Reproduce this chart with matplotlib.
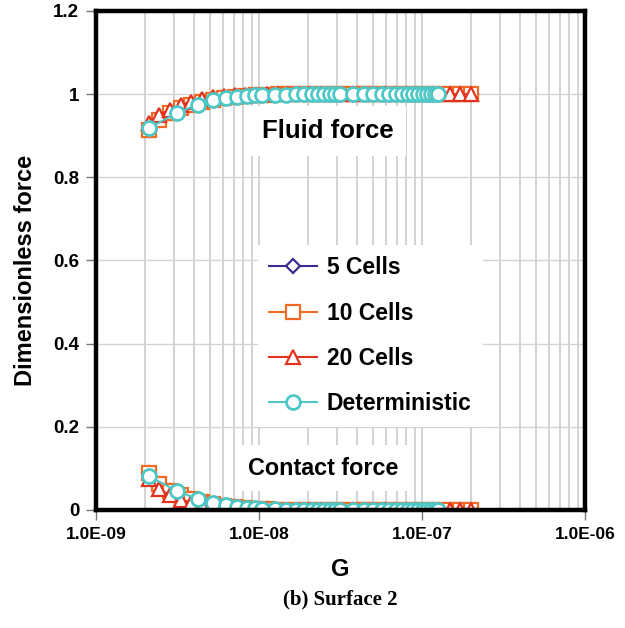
import matplotlib
matplotlib.use("Agg")
import matplotlib.pyplot as plt
from matplotlib.ticker import FixedLocator, LogLocator, NullFormatter

# G values
g_det = [2.1e-9, 3.15e-9, 4.2e-9, 5.25e-9, 6.3e-9, 7.35e-9, 8.4e-9, 9.45e-9,
         1.05e-8, 1.26e-8, 1.47e-8, 1.68e-8, 1.89e-8, 2.1e-8, 2.31e-8, 2.52e-8,
         2.73e-8, 2.94e-8, 3.15e-8, 3.78e-8, 4.41e-8, 5.04e-8, 5.67e-8, 6.3e-8,
         6.93e-8, 7.56e-8, 8.19e-8, 8.82e-8, 9.45e-8, 1.008e-7, 1.071e-7,
         1.134e-7, 1.197e-7, 1.26e-7]
fluid_det = [0.918, 0.955, 0.975, 0.985, 0.990, 0.993, 0.995, 0.997,
             0.998, 0.999, 0.999, 1.0, 1.0, 1.0, 1.0, 1.0,
             1.0, 1.0, 1.0, 1.0, 1.0, 1.0, 1.0, 1.0,
             1.0, 1.0, 1.0, 1.0, 1.0, 1.0, 1.0,
             1.0, 1.0, 1.0]
contact_det = [0.082, 0.045, 0.027, 0.018, 0.012, 0.008, 0.006, 0.004,
               0.003, 0.002, 0.001, 0.0, 0.0, 0.0, 0.0, 0.0,
               0.0, 0.0, 0.0, 0.0, 0.0, 0.0, 0.0, 0.0,
               0.0, 0.0, 0.0, 0.0, 0.0, 0.0, 0.0,
               0.0, 0.0, 0.0]

g_cells = [2.1e-9, 2.45e-9, 2.85e-9, 3.3e-9, 3.85e-9, 4.5e-9, 5.2e-9, 6.1e-9,
           7.1e-9, 8.2e-9, 9.6e-9, 1.12e-8, 1.3e-8, 1.51e-8, 1.76e-8, 2.05e-8,
           2.39e-8, 2.78e-8, 3.23e-8, 3.76e-8, 4.38e-8, 5.1e-8, 5.93e-8, 6.9e-8,
           8.04e-8, 9.35e-8, 1.09e-7, 1.27e-7, 1.48e-7, 1.72e-7, 2.0e-7]
fluid_5 = [0.915, 0.938, 0.955, 0.966, 0.975, 0.982, 0.987, 0.991,
           0.994, 0.996, 0.998, 0.999, 1.0, 1.0, 1.0, 1.0,
           1.0, 1.0, 1.0, 1.0, 1.0, 1.0, 1.0, 1.0,
           1.0, 1.0, 1.0, 1.0, 1.0, 1.0, 1.0]
contact_5 = [0.088, 0.062, 0.045, 0.035, 0.026, 0.019, 0.014, 0.010,
             0.007, 0.005, 0.003, 0.002, 0.001, 0.0, 0.0, 0.0,
             0.0, 0.0, 0.0, 0.0, 0.0, 0.0, 0.0, 0.0,
             0.0, 0.0, 0.0, 0.0, 0.0, 0.0, 0.0]
fluid_10 = [0.915, 0.938, 0.955, 0.966, 0.975, 0.982, 0.987, 0.991,
            0.994, 0.996, 0.998, 0.999, 1.0, 1.0, 1.0, 1.0,
            1.0, 1.0, 1.0, 1.0, 1.0, 1.0, 1.0, 1.0,
            1.0, 1.0, 1.0, 1.0, 1.0, 1.0, 1.0]
contact_10 = [0.088, 0.062, 0.045, 0.035, 0.026, 0.019, 0.014, 0.010,
              0.007, 0.005, 0.003, 0.002, 0.001, 0.0, 0.0, 0.0,
              0.0, 0.0, 0.0, 0.0, 0.0, 0.0, 0.0, 0.0,
              0.0, 0.0, 0.0, 0.0, 0.0, 0.0, 0.0]
fluid_20 = [0.930, 0.950, 0.963, 0.974, 0.982, 0.988, 0.992, 0.995,
            0.997, 0.998, 0.999, 1.0, 1.0, 1.0, 1.0, 1.0,
            1.0, 1.0, 1.0, 1.0, 1.0, 1.0, 1.0, 1.0,
            1.0, 1.0, 1.0, 1.0, 1.0, 1.0, 1.0]
contact_20 = [0.075, 0.050, 0.035, 0.025, 0.018, 0.012, 0.008, 0.005,
              0.003, 0.002, 0.001, 0.0, 0.0, 0.0, 0.0, 0.0,
              0.0, 0.0, 0.0, 0.0, 0.0, 0.0, 0.0, 0.0,
              0.0, 0.0, 0.0, 0.0, 0.0, 0.0, 0.0]

x_ticks = [1e-9, 1e-8, 1e-7, 1e-6]
x_labels = ["1.0E-09", "1.0E-08", "1.0E-07", "1.0E-06"]
y_ticks = [0, 0.2, 0.4, 0.6, 0.8, 1, 1.2]
y_labels = ["0", "0.2", "0.4", "0.6", "0.8", "1", "1.2"]

plt.rcParams["font.family"] = ["Liberation Sans", "DejaVu Sans"]

fig = plt.figure(figsize=(6.25, 6.28), dpi=100)
ax = fig.add_axes([0.1536, 0.1879, 0.7824, 0.7946])

c5, c10, c20, cdet = "#3b2d8f", "#f26a24", "#e2331f", "#4ec8c6"
ms, mew, lw = 9.5, 1.6, 1.5

for y5, y10, y20, yd, lab in [(fluid_5, fluid_10, fluid_20, fluid_det, True),
                              (contact_5, contact_10, contact_20, contact_det, False)]:
    ax.plot(g_cells, y5, "-D", color=c5, mfc="white", mec=c5, ms=ms - 2, mew=mew,
            lw=lw, label="5 Cells" if lab else None, zorder=3)
    ax.plot(g_cells, y10, "-s", color=c10, mfc="white", mec=c10, ms=ms, mew=mew,
            lw=lw, label="10 Cells" if lab else None, zorder=4)
    ax.plot(g_cells, y20, "-^", color=c20, mfc="white", mec=c20, ms=ms, mew=mew,
            lw=lw, label="20 Cells" if lab else None, zorder=5)
    ax.plot(g_det, yd, "-o", color=cdet, mfc="white", mec=cdet, ms=ms + 0.5,
            mew=2.0, lw=lw, label="Deterministic" if lab else None, zorder=6)

ax.set_xscale("log")
ax.set_xlim(1e-9, 1e-6)
ax.set_ylim(0, 1.2)
ax.xaxis.set_major_locator(FixedLocator(x_ticks))
ax.set_xticklabels(x_labels)
ax.xaxis.set_minor_locator(LogLocator(base=10, subs=range(2, 10), numticks=20))
ax.xaxis.set_minor_formatter(NullFormatter())
ax.set_yticks(y_ticks)
ax.set_yticklabels(y_labels)

ax.grid(True, which="both", axis="x", color="#c8c8c8", lw=1.1, zorder=0)
ax.grid(True, which="major", axis="y", color="#d4d4d4", lw=1.0, zorder=0)
ax.set_axisbelow(True)

for sp in ax.spines.values():
    sp.set_linewidth(3.2)
    sp.set_zorder(10)

ax.tick_params(axis="both", which="major", direction="out", length=7,
               width=1.0, color="#777777", pad=5)
ax.tick_params(axis="x", which="major", labelsize=12.5)
ax.tick_params(axis="y", which="major", labelsize=13.5)
ax.tick_params(axis="x", which="minor", length=0)
for t in ax.get_xticklabels() + ax.get_yticklabels():
    t.set_fontweight("bold")

ax.set_xlabel("G", fontsize=17, fontweight="bold", labelpad=12)
ax.set_ylabel("Dimensionless force", fontsize=17, fontweight="bold")
ax.yaxis.set_label_coords(-0.12, 0.481)

ax.text(0.339, 0.7595, "Fluid force", transform=ax.transAxes, fontsize=18.5,
        fontweight="bold", va="center", ha="left", zorder=8,
        bbox=dict(facecolor="white", edgecolor="none", pad=9))
ax.text(0.311, 0.084, "Contact force", transform=ax.transAxes, fontsize=16.8,
        fontweight="bold", va="center", ha="left", zorder=8,
        bbox=dict(facecolor="white", edgecolor="none", pad=8))

leg = ax.legend(loc="upper left", bbox_to_anchor=(0.331, 0.531), frameon=True,
                fancybox=False, edgecolor="none", framealpha=1.0,
                prop={"weight": "bold", "size": 16.5}, labelspacing=0.97,
                handlelength=2.1, handletextpad=0.4, borderpad=0.5,
                borderaxespad=0)
leg.set_zorder(9)

fig.text(0.545, 0.045, "(b) Surface 2", ha="center", va="center", fontsize=15,
         fontweight="bold", family=["Liberation Serif", "DejaVu Serif"])

fig.savefig("out.png", dpi=100)
